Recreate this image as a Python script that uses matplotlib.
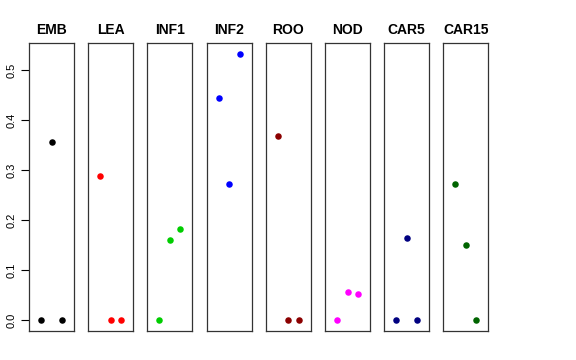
import numpy as np
import matplotlib
matplotlib.use("Agg")
import matplotlib.pyplot as plt

plt.rcParams['font.family'] = ['Liberation Sans', 'DejaVu Sans']

# tissue panels, three values each
tissues = ["EMB", "LEA", "INF1", "INF2", "ROO", "NOD", "CAR5", "CAR15"]
colors = ["black", "red", "#00CD00", "blue", "#8B0000", "magenta", "#000080", "#006400"]
vals_emb = [0.0, 0.356, 0.0]
vals_lea = [0.289, 0.0, 0.0]
vals_inf1 = [0.0, 0.161, 0.183]
vals_inf2 = [0.445, 0.273, 0.533]
vals_roo = [0.369, 0.0, 0.0]
vals_nod = [0.0, 0.056, 0.053]
vals_car5 = [0.0, 0.164, 0.0]
vals_car15 = [0.273, 0.151, 0.0]
all_vals = [vals_emb, vals_lea, vals_inf1, vals_inf2, vals_roo, vals_nod, vals_car5, vals_car15]
yticks = [0.0, 0.1, 0.2, 0.3, 0.4, 0.5]

W, H = 576, 360
fig = plt.figure(figsize=(W / 100, H / 100), dpi=100)

ymax = max(max(v) for v in all_vals)
pad = ymax * 0.04
bottom, top = 331, 43.3
for i, (name, col, v) in enumerate(zip(tissues, colors, all_vals)):
    left = 29 + 59.2 * i
    ax = fig.add_axes([left / W, 1 - bottom / H, 45 / W, (bottom - top) / H])
    ax.scatter([1, 2, 3], v, color=col, s=22, linewidths=0, zorder=3)
    ax.set_xlim(-0.16, 4.16)
    ax.set_ylim(-pad, ymax + pad)
    ax.set_xticks([])
    for s in ax.spines.values():
        s.set_linewidth(0.9)
        s.set_color("#333333")
    ax.set_title(name, fontsize=10, fontweight="bold", pad=7)
    if i == 0:
        ax.set_yticks(yticks)
        ax.set_yticklabels([f"{t:.1f}" for t in yticks], rotation=90, va="center", fontsize=8)
        ax.tick_params(axis="y", length=6, width=0.8, pad=3)
    else:
        ax.set_yticks([])

fig.savefig("out.png", dpi=100)
